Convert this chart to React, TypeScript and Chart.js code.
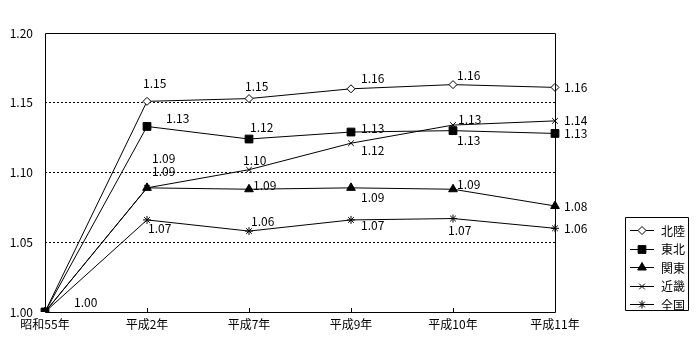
import React, { useEffect, useRef } from "react";
import { Chart, registerables } from "chart.js";
import { drawPoint } from "chart.js/helpers";

Chart.register(...registerables);

const categories = ["昭和55年", "平成2年", "平成7年", "平成9年", "平成10年", "平成11年"];
const seriesNames = ["北陸", "東北", "関東", "近畿", "全国"];
const hokuriku = [1.0, 1.151, 1.153, 1.16, 1.163, 1.161];
const tohoku = [1.0, 1.133, 1.124, 1.129, 1.13, 1.128];
const kanto = [1.0, 1.089, 1.088, 1.089, 1.088, 1.076];
const kinki = [1.0, 1.089, 1.102, 1.121, 1.134, 1.137];
const zenkoku = [1.0, 1.066, 1.058, 1.066, 1.067, 1.06];
const yTicks = [1.0, 1.05, 1.1, 1.15, 1.2];

// label offsets (text left x, middle y) relative to each point, per series
const labelOffsets: (number[] | null)[][] = [
  [null, [-4, -18], [-4, -12], [10, -10], [4, -9], [9, 0]],
  [null, [19, -8], [1, -12], [10, -4], [4, 10], [9, 0]],
  [null, [5, -16], [4, -4], [10, 10], [4, -5], [9, 0]],
  [null, [5, -29], [-6, -9], [10, 7], [5, -6], [9, 0]],
  [[29, -10], [1, 9], [2, -10], [10, 6], [-5, 12], [9, 0]],
];

const FONT = '"Noto Sans CJK JP", "DejaVu Sans", sans-serif';

const styles = [
  { pointStyle: "rectRot", radius: 4, bg: "#ffffff" },
  { pointStyle: "rect", radius: 5.5, bg: "#000000" },
  { pointStyle: "triangle", radius: 5, bg: "#000000" },
  { pointStyle: "crossRot", radius: 4, bg: "#000000" },
  { pointStyle: "star", radius: 4, bg: "#000000" },
];
const drawOrder = [1, 0, 2, 3, 4];

const overlayPlugin = {
  id: "overlay",
  afterDatasetsDraw(chart: any) {
    const ctx = chart.ctx;
    const { left, right, top, bottom } = chart.chartArea;
    ctx.save();
    // border
    ctx.strokeStyle = "#000";
    ctx.lineWidth = 1;
    ctx.setLineDash([]);
    ctx.beginPath();
    ctx.rect(Math.round(left) + 0.5, Math.round(top) + 0.5, Math.round(right - left), Math.round(bottom - top));
    ctx.stroke();
    // inner x ticks
    const xs = chart.scales.x;
    ctx.beginPath();
    for (let i = 1; i < categories.length - 1; i++) {
      const px = Math.round(xs.getPixelForValue(i)) + 0.5;
      ctx.moveTo(px, bottom);
      ctx.lineTo(px, bottom - 4);
    }
    ctx.stroke();
    // data labels
    ctx.fillStyle = "#000";
    ctx.font = "12px " + FONT;
    ctx.textAlign = "left";
    ctx.textBaseline = "middle";
    chart.data.datasets.forEach((ds: any, di: number) => {
      const meta = chart.getDatasetMeta(di);
      meta.data.forEach((pt: any, i: number) => {
        const off = labelOffsets[di][i];
        if (!off) return;
        ctx.fillText(Number(ds.data[i]).toFixed(2), pt.x + off[0], pt.y + off[1]);
      });
    });
    // legend
    const lx0 = 625, ly0 = 217, lx1 = 688, ly1 = 310;
    ctx.beginPath();
    ctx.rect(lx0 + 0.5, ly0 + 0.5, lx1 - lx0, ly1 - ly0);
    ctx.stroke();
    seriesNames.forEach((name, i) => {
      const y = 230 + i * 18.5;
      ctx.beginPath();
      ctx.moveTo(630, Math.round(y) + 0.5);
      ctx.lineTo(654, Math.round(y) + 0.5);
      ctx.stroke();
      ctx.fillStyle = styles[i].bg;
      ctx.strokeStyle = "#000";
      drawPoint(ctx, { pointStyle: styles[i].pointStyle as any, radius: styles[i].radius, rotation: 0, borderWidth: 1 }, 642, Math.round(y) + 0.5);
      ctx.fillStyle = "#000";
      ctx.fillText(name, 661, y + 1);
    });
    ctx.restore();
  },
};

export default function App() {
  const ref = useRef<HTMLCanvasElement | null>(null);
  useEffect(() => {
    if (!ref.current) return;
    const values = [hokuriku, tohoku, kanto, kinki, zenkoku];
    const chart = new Chart(ref.current, {
      type: "line",
      data: {
        labels: categories,
        datasets: values.map((v, i) => ({
          label: seriesNames[i],
          data: v,
          order: drawOrder[i],
          borderColor: "#000",
          borderWidth: 1,
          backgroundColor: styles[i].bg,
          pointBackgroundColor: styles[i].bg,
          pointBorderColor: "#000",
          pointBorderWidth: 1,
          pointStyle: styles[i].pointStyle as any,
          pointRadius: styles[i].radius,
          tension: 0,
          fill: false,
        })),
      },
      options: {
        responsive: false,
        animation: false,
        devicePixelRatio: 1,
        layout: { padding: { left: 0, right: 145, top: 33, bottom: 0 } },
        plugins: { legend: { display: false }, tooltip: { enabled: false } },
        scales: {
          x: {
            type: "category",
            offset: false,
            grid: { display: false, drawTicks: false },
            border: { display: false },
            ticks: { color: "#000", font: { family: FONT, size: 12 }, padding: 5, maxRotation: 0, autoSkip: false },
            afterFit: (s: any) => { s.height = 48; },
          },
          y: {
            min: 1.0,
            max: 1.2,
            afterBuildTicks: (s: any) => { s.ticks = yTicks.map((v) => ({ value: v })); },
            grid: {
              drawTicks: false,
              color: (c: any) => (c.tick && (Math.abs(c.tick.value - 1.0) < 1e-6 || Math.abs(c.tick.value - 1.2) < 1e-6) ? "rgba(0,0,0,0)" : "#000"),
              lineWidth: 1,
            },
            border: { display: false, dash: [2, 2] },
            ticks: { color: "#000", font: { family: FONT, size: 12 }, padding: 12, callback: (v: any) => Number(v).toFixed(2) },
            afterFit: (s: any) => { s.width = 45; },
          },
        },
      },
      plugins: [overlayPlugin],
    });
    return () => chart.destroy();
  }, []);
  return (
    <div style={{ position: "absolute", left: 0, top: 0, width: 700, height: 360, background: "#fff" }}>
      <canvas ref={ref} width={700} height={360} />
    </div>
  );
}
